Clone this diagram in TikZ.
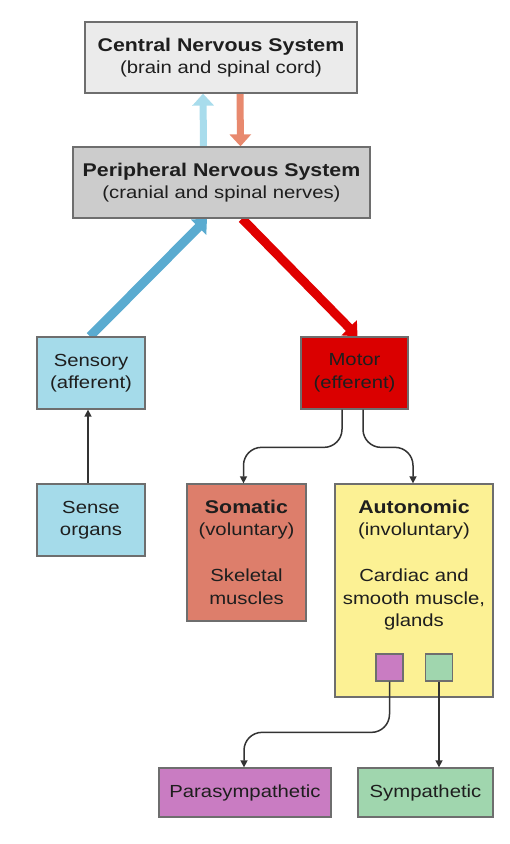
\documentclass[tikz,border=0pt]{standalone}
\usepackage{fontspec}
\setmainfont[FakeStretch=1.16]{Liberation Sans}
\usetikzlibrary{arrows.meta}
\pgfdeclarelayer{background}
\pgfsetlayers{background,main}
\definecolor{cnsfill}{HTML}{EBEBEB}
\definecolor{pnsfill}{HTML}{CCCCCC}
\definecolor{sensfill}{HTML}{A5DBEA}
\definecolor{motfill}{HTML}{DA0000}
\definecolor{somfill}{HTML}{DD7E6B}
\definecolor{autfill}{HTML}{FCF194}
\definecolor{parfill}{HTML}{C97CC2}
\definecolor{symfill}{HTML}{A0D6AE}
\definecolor{bord}{HTML}{6E6E6E}
\definecolor{txt}{HTML}{1E1E1E}
\definecolor{upblue}{HTML}{A8DCEC}
\definecolor{downsal}{HTML}{E8896E}
\definecolor{bigblue}{HTML}{5AABD0}
\definecolor{bigred}{HTML}{E00000}
\definecolor{connc}{HTML}{333333}
\tikzset{
  box/.style={draw=bord, line width=1.3pt, inner sep=0pt, align=center, text=txt,
    font=\fontsize{17.5}{22.5}\selectfont},
  boxtext/.style={inner sep=0pt, align=center, text=txt, anchor=north,
    font=\fontsize{17.5}{22.5}\selectfont},
  conn/.style={draw=connc, line width=1.5pt, -{Triangle[length=7pt,width=7pt]}},
  fatarrow/.style={line width=#1, -{Triangle[length=12pt,width=21pt]}},
}
\newcommand{\ttl}[1]{\textbf{\fontsize{18.4}{22.5}\selectfont #1}}
\begin{document}
\begin{tikzpicture}[x=1pt,y=-1pt]
\useasboundingbox (0,0) rectangle (510,844);

\node[box, fill=cnsfill, minimum width=272pt, minimum height=71pt] (cns) at (221,57.5)
  {\ttl{Central Nervous System}\\(brain and spinal cord)};
\node[box, fill=pnsfill, minimum width=297pt, minimum height=71pt] (pns) at (221.5,182.5)
  {\ttl{Peripheral Nervous System}\\(cranial and spinal nerves)};
\node[box, fill=sensfill, minimum width=108pt, minimum height=72pt] (sen) at (91,373)
  {Sensory\\(afferent)};
\node[box, fill=motfill, minimum width=107pt, minimum height=72pt] (mot) at (354.5,373)
  {Motor\\(efferent)};
\node[box, fill=sensfill, minimum width=108pt, minimum height=72pt] (org) at (91,520)
  {Sense\\organs};
\node[box, fill=somfill, minimum width=119pt, minimum height=137pt] (som) at (246.5,552.5) {};
\node[boxtext] (somtxt) at ([yshift=-16.5pt]som.north)
  {\ttl{Somatic}\\(voluntary)\\[23.5pt]Skeletal\\muscles};
\node[box, fill=autfill, minimum width=158pt, minimum height=213pt] (aut) at (414,590.5) {};
\node[boxtext] (auttxt) at ([yshift=-16.5pt]aut.north)
  {\ttl{Autonomic}\\(involuntary)\\[23.5pt]Cardiac and\\smooth muscle,\\glands};
\node[box, fill=parfill, minimum width=27pt, minimum height=27pt] (pur) at (389.5,667.5) {};
\node[box, fill=symfill, minimum width=27pt, minimum height=27pt] (grn) at (439,667.5) {};
\node[box, fill=parfill, minimum width=172pt, minimum height=49pt] (par) at (245,792.5)
  {Parasympathetic};
\node[box, fill=symfill, minimum width=135pt, minimum height=49pt] (sym) at (425.5,792.5)
  {Sympathetic};

\begin{pgfonlayer}{background}
\fill[white] (0,0) rectangle (510,844);
\draw[fatarrow=7pt, upblue] ([xshift=-18pt]pns.north) -- ([xshift=-18pt]cns.south);
\draw[fatarrow=7pt, downsal] ([xshift=19pt]cns.south) -- ([xshift=19pt]pns.north);
\draw[fatarrow=9pt, bigblue] ([xshift=-1pt]sen.north) -- ([xshift=-14.5pt]pns.south);
\draw[fatarrow=9pt, bigred] ([xshift=20.5pt]pns.south) -- ([xshift=3pt]mot.north);
\end{pgfonlayer}

\draw[conn] ([xshift=-3pt]org.north) -- ([xshift=-3pt]sen.south);
\draw[conn, rounded corners=18pt] ([xshift=-12.5pt]mot.south) |- ([xshift=-3pt,yshift=36pt]som.north) -- ([xshift=-3pt]som.north);
\draw[conn, rounded corners=18pt] ([xshift=8.5pt]mot.south) |- ([xshift=-1pt,yshift=36pt]aut.north) -- ([xshift=-1pt]aut.north);
\draw[conn, rounded corners=18pt] (pur.south) |- ([xshift=-1pt,yshift=35pt]par.north) -- ([xshift=-1pt]par.north);
\draw[conn] (grn.south) -- (grn.south |- sym.north);
\end{tikzpicture}
\end{document}
